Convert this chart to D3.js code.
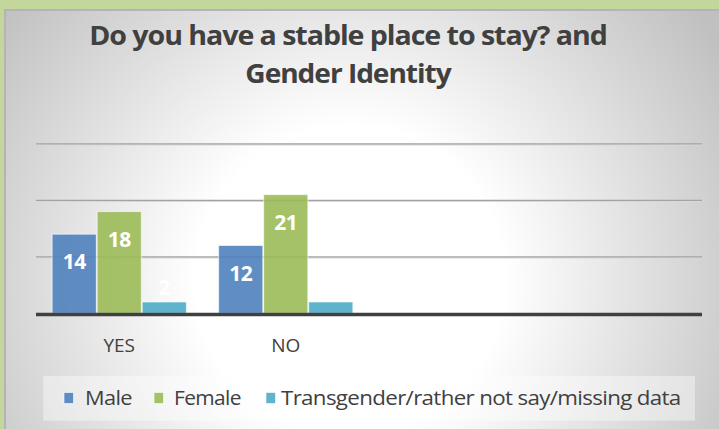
<!DOCTYPE html>
<html>
<head>
<meta charset="utf-8">
<script src="https://cdn.jsdelivr.net/npm/d3@7/dist/d3.min.js"></script>
<style>
  html, body { margin: 0; padding: 0; background: #c3d69b; }
  svg { display: block; }
</style>
</head>
<body>
<svg id="chart" width="719" height="429"></svg>
<script>
// ---- data ----
const categories = ["YES", "NO", "", ""];
const seriesNames = ["Male", "Female", "Transgender/rather not say/missing data"];
const maleValues = [14, 12];
const femaleValues = [18, 21];
const transValues = [2, 2];
const yTicks = [0, 10, 20, 30];
const titleLines = ["Do you have a stable place to stay? and", "Gender Identity"];

const seriesColors = ["#4f81bd", "#9bbb59", "#4bacc6"];
const seriesValues = [maleValues, femaleValues, transValues];

const W = 719, H = 429;
const svg = d3.select("#chart");

// fit text horizontally to a target width
function fitWidth(sel, target, anchorX, anchorY) {
  const w = sel.node().getBBox().width;
  const s = target / w;
  sel.attr("transform", `translate(${anchorX},${anchorY}) scale(${s},1) translate(${-anchorX},${-anchorY})`);
}

// background
svg.append("rect").attr("x", 0).attr("y", 0).attr("width", W).attr("height", H).attr("fill", "#c3d69b");
const defs = svg.append("defs");
const rg = defs.append("radialGradient").attr("id", "bg")
  .attr("gradientUnits", "userSpaceOnUse")
  .attr("cx", 350).attr("cy", 280).attr("r", 440);
rg.append("stop").attr("offset", 0).attr("stop-color", "#ffffff");
rg.append("stop").attr("offset", 0.35).attr("stop-color", "#ffffff");
rg.append("stop").attr("offset", 1).attr("stop-color", "#c0c0c0");
svg.append("rect").attr("x", 5).attr("y", 10).attr("width", 730).attr("height", 440)
  .attr("fill", "url(#bg)").attr("stroke", "#b4b4b4").attr("stroke-width", 2);

// scales
const plotLeft = 36, plotRight = 702, plotTop = 143.8, plotBottom = 313.3;
const x = d3.scaleBand().domain(d3.range(categories.length)).range([plotLeft, plotRight]).paddingInner(0).paddingOuter(0);
const y = d3.scaleLinear().domain([0, 30]).range([plotBottom, plotTop]);
const groupW = 136;
const xs = d3.scaleBand().domain(d3.range(seriesNames.length)).range([0, groupW]).padding(0.02);

// gridlines
const grid = svg.append("g");
grid.selectAll("line.g").data(yTicks.filter(d => d > 0)).enter().append("line")
  .attr("x1", plotLeft).attr("x2", plotRight)
  .attr("y1", d => y(d) + 1).attr("y2", d => y(d) + 1)
  .attr("stroke", "#d8d8d8").attr("stroke-width", 1.5);
grid.selectAll("line.h").data(yTicks.filter(d => d > 0)).enter().append("line")
  .attr("x1", plotLeft).attr("x2", plotRight)
  .attr("y1", d => y(d)).attr("y2", d => y(d))
  .attr("stroke", "#a3a3a3").attr("stroke-width", 1.3);

// bars
seriesValues.forEach((vals, si) => {
  svg.append("g").selectAll("rect").data(vals).enter().append("rect")
    .attr("x", (d, i) => x(i) + (x.bandwidth() - groupW) / 2 + xs(si))
    .attr("y", d => y(d))
    .attr("width", xs.bandwidth())
    .attr("height", d => y(0) - y(d))
    .attr("fill", seriesColors[si])
    .attr("fill-opacity", 0.9)
    .attr("stroke", "#ffffff").attr("stroke-opacity", 0.6).attr("stroke-width", 1);
});

// baseline axis
svg.append("line").attr("x1", plotLeft).attr("x2", plotRight)
  .attr("y1", y(0) + 1.2).attr("y2", y(0) + 1.2)
  .attr("stroke", "#404040").attr("stroke-width", 3.4);

// data labels
seriesValues.forEach((vals, si) => {
  svg.append("g").selectAll("text").data(vals).enter().append("text")
    .attr("x", (d, i) => x(i) + (x.bandwidth() - groupW) / 2 + xs(si) + xs.bandwidth() / 2)
    .attr("y", d => (y(0) - y(d) > 40) ? y(d) + 35 : y(d) - 7)
    .attr("text-anchor", "middle")
    .attr("font-family", "'Open Sans', sans-serif")
    .attr("font-weight", "bold")
    .attr("font-size", 21)
    .attr("letter-spacing", -0.5)
    .attr("fill", "#ffffff")
    .text(d => d);
});

// x axis labels
svg.append("g").selectAll("text").data(categories).enter().append("text")
  .attr("x", (d, i) => x(i) + x.bandwidth() / 2)
  .attr("y", 352)
  .attr("text-anchor", "middle")
  .attr("font-family", "'Open Sans', sans-serif")
  .attr("font-size", 19)
  .attr("fill", "#404040")
  .text(d => d);

// title
const titleBaselines = [45, 83.3];
const titleWidths = [518, 207];
titleLines.forEach((t, i) => {
  const tx = svg.append("text")
    .attr("x", 348).attr("y", titleBaselines[i])
    .attr("text-anchor", "middle")
    .attr("font-family", "'Open Sans', sans-serif")
    .attr("font-weight", "bold")
    .attr("font-size", 27)
    .attr("letter-spacing", -1)
    .attr("fill", "#404040")
    .text(t);
  fitWidth(tx, titleWidths[i], 348, titleBaselines[i]);
});

// legend
svg.append("rect").attr("x", 43.3).attr("y", 376).attr("width", 651.7).attr("height", 44.7)
  .attr("fill", "#ffffff").attr("fill-opacity", 0.4);
const legendSquareX = [64, 154, 266];
const legendTextX = [85, 174, 281];
const legendTextW = [47, 67, 400];
seriesNames.forEach((n, i) => {
  svg.append("rect").attr("x", legendSquareX[i]).attr("y", 392.5).attr("width", 9.5).attr("height", 11)
    .attr("fill", seriesColors[i]).attr("fill-opacity", 0.9)
    .attr("stroke", "#ffffff").attr("stroke-opacity", 0.6).attr("stroke-width", 1);
  const tx = svg.append("text").attr("x", legendTextX[i]).attr("y", 405)
    .attr("font-family", "'Open Sans', sans-serif")
    .attr("font-size", 20.5)
    .attr("letter-spacing", -0.6)
    .attr("fill", "#404040")
    .text(n);
  fitWidth(tx, legendTextW[i], legendTextX[i], 405);
});
</script>
</body>
</html>
